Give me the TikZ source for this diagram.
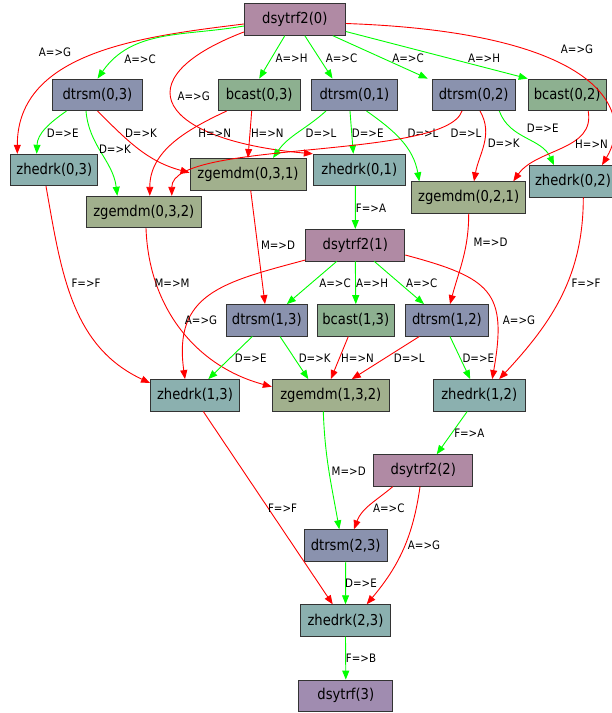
\documentclass[tikz,border=0pt]{standalone}
\usepackage{fontspec}
\setmainfont[FakeStretch=0.88]{DejaVu Sans}
\usetikzlibrary{arrows.meta,calc}
\definecolor{dsycol}{HTML}{B08AA4}
\definecolor{trsmcol}{HTML}{8A92AE}
\definecolor{bcastcol}{HTML}{8DB090}
\definecolor{herkcol}{HTML}{8BB0AF}
\definecolor{gemmcol}{HTML}{A1B08D}
\definecolor{lastcol}{HTML}{A08CB0}
\definecolor{gdepcol}{HTML}{00FF00}
\definecolor{rdepcol}{HTML}{FF0000}
\tikzset{
  task/.style={draw=black!80, line width=0.9bp, minimum height=31.5bp, inner sep=0pt,
    font=\fontsize{15}{18}\selectfont},
  dsy/.style={task, fill=dsycol},
  trsm/.style={task, fill=trsmcol},
  bcst/.style={task, fill=bcastcol},
  herk/.style={task, fill=herkcol},
  gemm/.style={task, fill=gemmcol},
  dep/.style={line width=0.9bp, -{Triangle[length=9bp,width=7bp]}},
  gdep/.style={dep, draw=gdepcol},
  rdep/.style={dep, draw=rdepcol},
  lbl/.style={font=\fontsize{11.7}{14}\selectfont, inner sep=0pt, text=black}
}
\begin{document}
\begin{tikzpicture}[x=1bp,y=1bp]
  \useasboundingbox (0,0) rectangle (612,-713);

  % step 0
  \node[dsy, minimum width=101bp] (d0) at (294.8,-19.5) {dsytrf2(0)};
  \node[trsm, minimum width=90bp] (t03) at (97.5,-94.8) {dtrsm(0,3)};
  \node[bcst, minimum width=82bp] (b03) at (259.2,-94.8) {bcast(0,3)};
  \node[trsm, minimum width=86bp] (t01) at (354.5,-94.8) {dtrsm(0,1)};
  \node[trsm, minimum width=83bp] (t02) at (473.7,-94.8) {dtrsm(0,2)};
  \node[bcst, minimum width=78bp] (b02) at (567.2,-94.8) {bcast(0,2)};
  \node[herk, minimum width=87bp] (z03) at (54.3,-170) {zhedrk(0,3)};
  \node[gemm, minimum width=116bp] (g031) at (248,-174.2) {zgemdm(0,3,1)};
  \node[herk, minimum width=92bp] (z01) at (359.3,-170) {zhedrk(0,1)};
  \node[gemm, minimum width=114bp] (g021) at (468.7,-197.5) {zgemdm(0,2,1)};
  \node[herk, minimum width=88bp] (z02) at (573,-181.3) {zhedrk(0,2)};
  \node[gemm, minimum width=115bp] (g032) at (143.8,-212) {zgemdm(0,3,2)};

  % step 1
  \node[dsy, minimum width=99bp] (d1) at (355.3,-245.2) {dsytrf2(1)};
  \node[trsm, minimum width=81bp] (t13) at (266.8,-320.3) {dtrsm(1,3)};
  \node[bcst, minimum width=77bp] (b13) at (355.8,-320.3) {bcast(1,3)};
  \node[trsm, minimum width=83bp] (t12) at (447,-320.3) {dtrsm(1,2)};
  \node[herk, minimum width=89bp] (z13) at (195,-395.3) {zhedrk(1,3)};
  \node[gemm, minimum width=117bp] (g132) at (330.8,-395.3) {zgemdm(1,3,2)};
  \node[herk, minimum width=92bp] (z12) at (479.2,-395.3) {zhedrk(1,2)};

  % step 2
  \node[dsy, minimum width=99bp] (d2) at (423.3,-470.5) {dsytrf2(2)};
  \node[trsm, minimum width=83bp] (t23) at (345.7,-545.5) {dtrsm(2,3)};
  \node[herk, minimum width=90bp] (z23) at (345.5,-620.5) {zhedrk(2,3)};
  \node[task, fill=lastcol, minimum width=94bp] (d3) at (345.8,-695.8) {dsytrf(3)};

  % out of dsytrf2(0)
  \draw[rdep] ([yshift=-4.5bp]d0.west) to[out=187,in=90] ([xshift=-37bp]z03.north)
    node[lbl] at (55,-52) {A=>G};
  \draw[gdep] ([yshift=-6.5bp]d0.west) to[out=190,in=55] (t03.north)
    node[lbl] at (140,-59) {A=>C};
  \draw[rdep] ([yshift=-12.5bp]d0.west) to[out=201,in=175,out distance=133bp,in distance=153bp] (z01.north west)
    node[lbl] at (193.7,-96) {A=>G};
  \draw[gdep] ([xshift=-10bp]d0.south) -- (b03.north)
    node[lbl] at (291.5,-58.7) {A=>H};
  \draw[gdep] ([xshift=10bp]d0.south) -- ([xshift=-22bp]t01.north)
    node[lbl] at (341.5,-58.7) {A=>C};
  \draw[gdep] ([xshift=38bp]d0.south) -- ([xshift=-46bp]t02.north)
    node[lbl] at (408,-58.7) {A=>C};
  \draw[gdep] ([yshift=-12bp]d0.east) -- (b02.north west)
    node[lbl] at (484,-58.7) {A=>H};
  \draw[rdep] ([yshift=-4bp]d0.east) to[out=358,in=59,out distance=255bp,in distance=64bp] ([xshift=29bp]z02.north)
    node[lbl] at (577,-49) {A=>G};

  % out of dtrsm(0,3) and bcast(0,3)
  \draw[gdep] ([xshift=-31bp]t03.south) to[out=215,in=88] ([xshift=-17.6bp]z03.north)
    node[lbl] at (62.7,-133.7) {D=>E};
  \draw[gdep] ([xshift=-11.5bp]t03.south) to[out=275,in=97] ([xshift=-26.5bp]g032.north)
    node[lbl] at (115,-149) {D=>K};
  \draw[rdep] (t03.south) to[out=-45,in=165] ([yshift=1.5bp]g031.west)
    node[lbl] at (141,-133.7) {D=>K};
  \draw[rdep] ([xshift=-32.5bp]b03.south) to[out=205,in=90] ([xshift=6bp]g032.north)
    node[lbl] at (214.7,-133.7) {H=>N};
  \draw[rdep] ([xshift=-7.5bp]b03.south) -- (g031.north)
    node[lbl] at (267.3,-133.7) {H=>N};

  % out of dtrsm(0,1)
  \draw[gdep] ([xshift=-28.5bp]t01.south) to[out=222,in=55] ([xshift=25bp]g031.north)
    node[lbl] at (321,-133.7) {D=>L};
  \draw[gdep] ([xshift=-4.5bp]t01.south) -- ([xshift=-6bp]z01.north)
    node[lbl] at (367.7,-133.7) {D=>E};
  \draw[gdep] ([xshift=12bp]t01.south) to[out=-35,in=100] ([xshift=-49.4bp]g021.north)
    node[lbl] at (423,-133.7) {D=>L};

  % out of dtrsm(0,2) and bcast(0,2)
  \draw[rdep] ([xshift=-11.7bp]t02.south) to[out=251,in=90,out distance=52bp,in distance=56bp] ([xshift=28bp]g032.north)
    node[lbl] at (466,-133.7) {D=>L};
  \draw[rdep] ([xshift=6.3bp]t02.south) to[out=-60,in=80] ([xshift=5.3bp]g021.north)
    node[lbl] at (503.7,-143.7) {D=>K};
  \draw[gdep] ([xshift=25.6bp]t02.south) to[out=-70,in=115] ([xshift=-19bp]z02.north)
    node[lbl] at (542.7,-128.3) {D=>E};
  \draw[rdep] ([xshift=21bp]b02.south) to[out=280,in=55] ([xshift=44.6bp]g021.north)
    node[lbl] at (591.5,-144.3) {H=>N};

  % into step 1
  \draw[gdep] ([xshift=-4bp]z01.south) -- (d1.north)
    node[lbl] at (371,-208.3) {F=>A};
  \draw[rdep] ([xshift=2.7bp]g031.south) -- ([xshift=-1.8bp]t13.north)
    node[lbl] at (278,-245.7) {M=>D};
  \draw[rdep] (g021.south) to[out=270,in=75] ([xshift=3bp]t12.north)
    node[lbl] at (490.5,-242.3) {M=>D};
  \draw[rdep] ([xshift=2.2bp]g032.south) to[out=272,in=165] ([yshift=8.6bp]g132.west)
    node[lbl] at (172,-283.3) {M=>M};
  \draw[rdep] ([xshift=-8.3bp]z03.south) to[out=280,in=155] ([yshift=12.3bp]z13.west)
    node[lbl] at (86,-283.3) {F=>F};
  \draw[rdep] ([xshift=10.3bp]z02.south) to[out=270,in=47] ([xshift=20bp]z12.north)
    node[lbl] at (586,-283.3) {F=>F};

  % out of dsytrf2(1)
  \draw[rdep] ([yshift=-14.8bp]d1.west) to[out=195,in=98,looseness=1.3] ([xshift=-10bp]z13.north)
    node[lbl] at (201,-320.7) {A=>G};
  \draw[gdep] ([xshift=-18.6bp]d1.south) -- ([xshift=20bp]t13.north)
    node[lbl] at (335,-283.3) {A=>C};
  \draw[gdep] (d1.south) -- (b13.north)
    node[lbl] at (372,-283.3) {A=>H};
  \draw[gdep] ([xshift=19bp]d1.south) -- ([xshift=-23bp]t12.north)
    node[lbl] at (421.7,-283.3) {A=>C};
  \draw[rdep] ([yshift=-9.8bp]d1.east) to[out=-15,in=80,looseness=1.5] ([xshift=13bp]z12.north)
    node[lbl] at (519,-320.7) {A=>G};

  % out of dtrsm(1,3), bcast(1,3), dtrsm(1,2)
  \draw[gdep] ([xshift=-14.5bp]t13.south) -- ([xshift=13.3bp]z13.north)
    node[lbl] at (250.7,-358.3) {D=>E};
  \draw[gdep] ([xshift=13.2bp]t13.south) -- ([xshift=-22.5bp]g132.north)
    node[lbl] at (314.7,-358.3) {D=>K};
  \draw[rdep] ([xshift=-7.5bp]b13.south) -- (g132.north)
    node[lbl] at (357.5,-358.3) {H=>N};
  \draw[rdep] ([xshift=-27.7bp]t12.south) -- ([xshift=21bp]g132.north)
    node[lbl] at (409.3,-358.3) {D=>L};
  \draw[gdep] ([xshift=3bp]t12.south) -- ([xshift=-9bp]z12.north)
    node[lbl] at (478.3,-358.3) {D=>E};

  % into step 2
  \draw[gdep] ([xshift=-12bp]z12.south) -- ([xshift=13.4bp]d2.north)
    node[lbl] at (469.3,-433.3) {F=>A};
  \draw[gdep] ([xshift=-7.5bp]g132.south) to[out=272,in=100] ([xshift=-6.4bp]t23.north)
    node[lbl] at (348.7,-471) {M=>D};
  \draw[rdep] ([xshift=8.3bp]z13.south) -- ([xshift=-12.8bp]z23.north)
    node[lbl] at (282.5,-508.7) {F=>F};
  \draw[rdep] ([xshift=-30.6bp]d2.south) to[out=220,in=70] ([xshift=8.3bp]t23.north)
    node[lbl] at (388.8,-508.7) {A=>C};
  \draw[rdep] ([xshift=-3.3bp]d2.south) to[out=262,in=50] ([xshift=21.2bp]z23.north)
    node[lbl] at (424,-545.7) {A=>G};
  \draw[gdep] (t23.south) -- (z23.north)
    node[lbl] at (361,-583.7) {D=>E};
  \draw[gdep] (z23.south) -- (d3.north)
    node[lbl] at (361,-658.7) {F=>B};
\end{tikzpicture}
\end{document}
